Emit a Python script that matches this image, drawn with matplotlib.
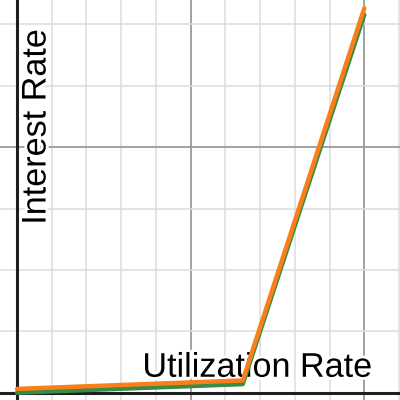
import matplotlib.pyplot as plt
import matplotlib.patheffects as pe
import numpy as np

# utilization (x) and interest rate (y) points, two curves
util = [0.0, 0.65, 1.0]
rate_green = [0.0, 0.035, 1.54]
rate_orange = [0.0155, 0.05, 1.566]

xlabel = "Utilization Rate"
ylabel = "Interest Rate"

plt.rcParams['font.family'] = ['Liberation Sans', 'DejaVu Sans']

fig = plt.figure(figsize=(4, 4), dpi=100)
ax = fig.add_axes([0, 0, 1, 1])
ax.set_xlim(-0.049, 1.1028)
ax.set_ylim(-0.0297, 1.5996)

# grid like desmos
for x in np.arange(-0.0, 1.11, 0.1):
    major = abs(x / 0.5 - round(x / 0.5)) < 1e-6
    ax.axvline(x, color='#9a9a9a' if major else '#dcdcdc', lw=1.3 if major else 1.1, zorder=0)
for y in np.arange(0.0, 1.61, 0.25):
    major = abs(y - round(y)) < 1e-6
    ax.axhline(y, color='#9a9a9a' if major else '#dcdcdc', lw=1.3 if major else 1.1, zorder=0)
ax.axhline(0, color='#1e1e1e', lw=2.2, zorder=1)
ax.axvline(0, color='#1e1e1e', lw=2.2, zorder=1)

halo = [pe.withStroke(linewidth=4, foreground='white')]
ax.text(0.0576, 1.082, ylabel, rotation=90, ha='center', va='center',
        fontsize=24.6, color='black', zorder=2, path_effects=halo)
ax.text(0.361, 0.065, xlabel, ha='left', va='baseline',
        fontsize=24.6, color='black', zorder=2, path_effects=halo)

ax.plot(util, rate_green, color='#388c46', lw=3.2, solid_capstyle='round', solid_joinstyle='round', zorder=3)
ax.plot(util, rate_orange, color='#fa7e19', lw=3.2, solid_capstyle='round', solid_joinstyle='round', zorder=4)

ax.set_xticks([])
ax.set_yticks([])
for s in ax.spines.values():
    s.set_visible(False)

plt.savefig('out.png', dpi=100)
plt.close()
